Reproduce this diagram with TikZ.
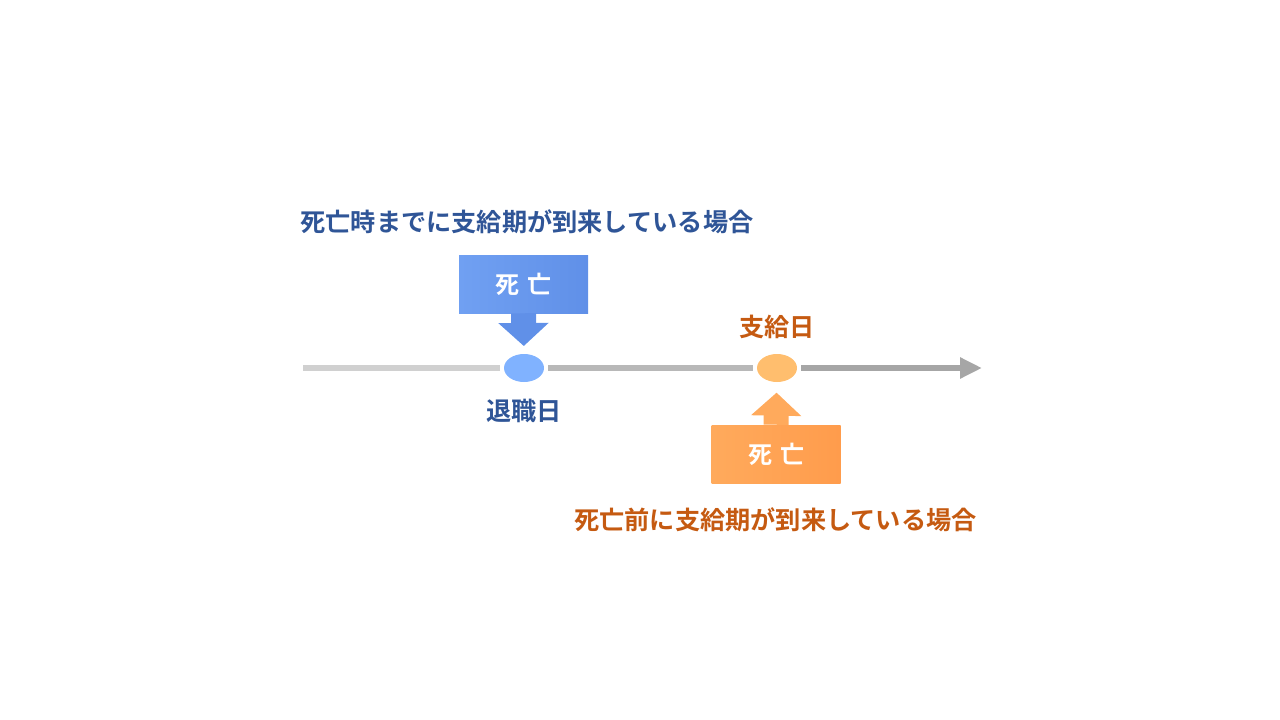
\documentclass[tikz,border=0pt]{standalone}
\usepackage{fontspec}
\newfontfamily\jp{Noto Sans CJK JP}[BoldFont={Noto Sans CJK JP Bold}]
\usetikzlibrary{arrows.meta,shapes.geometric,positioning}
\definecolor{navy}{HTML}{2F5597}
\definecolor{rust}{HTML}{C55A11}
\definecolor{skyA}{HTML}{70A0F2}
\definecolor{skyB}{HTML}{6090E8}
\definecolor{skyDot}{HTML}{80B2FF}
\definecolor{sunA}{HTML}{FFAA5C}
\definecolor{sunB}{HTML}{FF9C4C}
\definecolor{sunDot}{HTML}{FFBE6E}
\definecolor{railA}{HTML}{D0D0D0}
\definecolor{railB}{HTML}{B8B8B8}
\definecolor{railC}{HTML}{A6A6A6}
\tikzset{
   heading/.style = { font=\jp\bfseries\fontsize{18.9}{22}\selectfont, inner sep=0pt },
  deathbox/.style = { font=\jp\bfseries\fontsize{18}{22}\selectfont, text=white,
                      minimum width=96.75pt, minimum height=43.5pt, inner sep=0pt },
       dot/.style = { ellipse, minimum width=30pt, minimum height=21pt,
                      inner sep=0pt, outer sep=3pt },
      rail/.style = { line width=4.5pt },
   pointer/.style = { line width=18.75pt, -{Triangle[width=36.75pt,length=17.25pt]} },
}
\newcommand*{\shibo}{死\hspace{6pt}亡}

\begin{document}
\begin{tikzpicture}[x=0.75pt,y=-0.75pt]
  \useasboundingbox (0,0) rectangle (1280,720);
  % timeline
  \coordinate (t0) at (303,368);
  \coordinate (t1) at (982,368);
  \node[dot, fill=skyDot] (retire) at (524,368) {};
  \node[dot, fill=sunDot] (pay) at (777,368) {};
  \draw[rail, railA] (t0) -- (retire);
  \draw[rail, railB] (retire) -- (pay);
  \draw[rail, railC, -{Triangle[width=15pt,length=16.5pt]}] (pay) -- (t1);

  \node[heading, text=navy, below=10pt of retire] (retireLbl) {退職日};
  \node[heading, text=rust, above=8pt of pay] (payLbl) {支給日};

  % death before / after
  \node[deathbox, left color=skyA, right color=skyB] (deathA) at (523.5,284) {\shibo};
  \node[deathbox, left color=sunA, right color=sunB] (deathB) at (776,454) {\shibo};
  \draw[pointer, skyB, shorten >=3pt] (deathA.south) -- (retire);
  \draw[pointer, sunA, shorten >=5pt] (deathB.north) -- (pay);

  \node[heading, text=navy] (caseA) at (527,222) {死亡時までに支給期が到来している場合};
  \node[heading, text=rust] (caseB) at (775.5,520) {死亡前に支給期が到来している場合};
\end{tikzpicture}
\end{document}
